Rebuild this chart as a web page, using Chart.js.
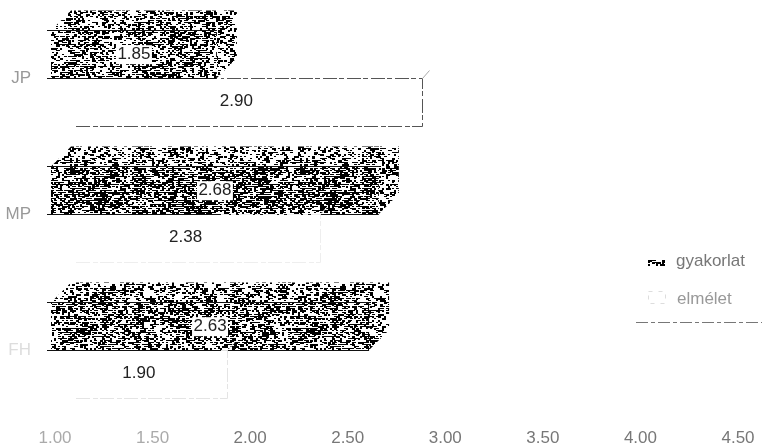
<!DOCTYPE html>
<html>
<head>
<meta charset="utf-8">
<script src="https://cdn.jsdelivr.net/npm/chart.js@4"></script>
<style>
  html, body { margin: 0; padding: 0; background: #fff; }
  #wrap { width: 762px; height: 446px; }
</style>
</head>
<body>
<div id="wrap"><canvas id="chart" width="762" height="446"></canvas></div>
<script>
const categories = ["JP", "MP", "FH"];
const gyakorlat = [1.85, 2.68, 2.63];
const elmelet = [2.90, 2.38, 1.90];
const xTicks = [1, 1.5, 2, 2.5, 3, 3.5, 4, 4.5];
const seriesNames = ["gyakorlat", "elmélet"];

const FONT = '"Liberation Sans", Arial, sans-serif';
const DEPTH_X = 20;
const DEPTH_Y = -20;

// photocopy look: fixed speckle, no Math.random so every run is the same
function speckle(density) {
  const c = document.createElement("canvas");
  c.width = 230;
  c.height = 96;
  const g = c.getContext("2d");
  g.fillStyle = "#fff";
  g.fillRect(0, 0, c.width, c.height);
  g.fillStyle = "#000";
  let s = 12345;
  const next = () => {
    s = (s * 1103515 + 12345) % 2147483648;
    return ((s >> 8) % 1000) / 1000;
  };
  // patchy density so it clumps like the scan
  const patches = [];
  for (let i = 0; i < 40 * 12; i++) patches.push(next() * 0.3 - 0.15);
  for (let y = 0; y < c.height; y += 2) {
    for (let x = 0; x < c.width; x += 2) {
      const patch = patches[Math.floor(x / 12) + Math.floor(y / 8) * 40];
      const streak = (x % 34 < 3 ? 0.2 : 0) + (y % 22 < 2 ? 0.15 : 0);
      if (next() < density + patch + streak) {
        g.fillRect(x, y, next() < 0.4 ? 3 : 2, next() < 0.5 ? 1 : 2);
      }
    }
  }
  return g.createPattern(c, "repeat");
}

const dark = [speckle(0.52), speckle(0.68), speckle(0.58)];
const topFace = speckle(0.42);

const look3d = {
  id: "look3d",
  beforeDatasetsDraw(chart) {
    const g = chart.ctx;
    g.save();
    chart.getDatasetMeta(0).data.forEach(b => {
      const { x, y, base, height } = b;
      const top = y - height / 2;
      const bottom = y + height / 2;
      g.fillStyle = topFace;
      g.beginPath();
      g.moveTo(base, top);
      g.lineTo(base + DEPTH_X, top + DEPTH_Y);
      g.lineTo(x + DEPTH_X, top + DEPTH_Y);
      g.lineTo(x + DEPTH_X, bottom + DEPTH_Y);
      g.lineTo(x, bottom);
      g.lineTo(x, top);
      g.closePath();
      g.fill();
    });
    g.restore();
  },
  afterDatasetsDraw(chart) {
    const g = chart.ctx;
    g.save();
    g.strokeStyle = "#111";
    g.lineWidth = 1;
    chart.getDatasetMeta(0).data.forEach(b => {
      const bottom = Math.round(b.y + b.height / 2) + 0.5;
      const top = Math.round(b.y - b.height / 2) + 0.5;
      g.beginPath();
      g.moveTo(b.base - 4, bottom);
      g.lineTo(b.x, bottom);
      g.moveTo(b.base - 4, top);
      g.lineTo(b.x, top);
      g.stroke();
    });
    // white bars: only the first one survived the scan well
    const outline = ["#555", "#eeeeee", "#e4e4e4"];
    chart.getDatasetMeta(1).data.forEach((b, i) => {
      const top = Math.round(b.y - b.height / 2) + 0.5;
      const bottom = Math.round(b.y + b.height / 2) + 0.5;
      const right = Math.round(b.x) + 0.5;
      g.strokeStyle = outline[i];
      g.setLineDash([14, 3, 5, 2]);
      g.beginPath();
      g.moveTo(b.base + 25, bottom);
      g.lineTo(right, bottom);
      g.lineTo(right, top);
      g.lineTo(b.base + 170, top);
      g.stroke();
      g.setLineDash([]);
      g.strokeStyle = i === 0 ? "#aaa" : "#f2f2f2";
      g.beginPath();
      g.moveTo(right, top);
      g.lineTo(right + 7, top - 8);
      g.stroke();
    });
    g.restore();
  }
};

const valueLabels = {
  id: "valueLabels",
  afterDraw(chart) {
    const g = chart.ctx;
    g.save();
    g.font = "17px " + FONT;
    g.textAlign = "center";
    g.textBaseline = "middle";
    chart.data.datasets.forEach((ds, d) => {
      chart.getDatasetMeta(d).data.forEach((b, i) => {
        const cx = (b.x + b.base) / 2;
        const txt = ds.data[i].toFixed(2);
        if (d === 0) {
          g.fillStyle = "#fff";
          g.fillRect(cx - 18, b.y - 9, 36, 19);
        }
        g.fillStyle = "#222";
        g.fillText(txt, cx, b.y);
      });
    });
    g.restore();
  }
};

const sideLegend = {
  id: "sideLegend",
  afterDraw(chart) {
    const g = chart.ctx;
    g.save();
    g.strokeStyle = "#777";
    g.setLineDash([12, 3, 4, 3]);
    g.beginPath();
    g.moveTo(636, 322.5);
    g.lineTo(762, 322.5);
    g.stroke();
    g.setLineDash([]);
    g.fillStyle = dark[1];
    g.fillRect(648, 260, 17, 6);
    g.strokeStyle = "#ddd";
    g.setLineDash([4, 6]);
    g.strokeRect(648.5, 291.5, 17, 12);
    g.setLineDash([]);
    g.font = "17px " + FONT;
    g.textBaseline = "middle";
    g.fillStyle = "#777";
    g.fillText(seriesNames[0], 676, 261);
    g.fillStyle = "#999";
    g.fillText(seriesNames[1], 677, 299);
    g.restore();
  }
};

new Chart(document.getElementById("chart"), {
  type: "bar",
  data: {
    labels: categories,
    datasets: [
      { label: seriesNames[0], data: gyakorlat, base: xTicks[0], backgroundColor: dark, borderWidth: 0 },
      { label: seriesNames[1], data: elmelet, base: xTicks[0], backgroundColor: "#fff", borderWidth: 0 }
    ]
  },
  options: {
    indexAxis: "y",
    responsive: false,
    animation: false,
    layout: { padding: { top: 10, right: 28, left: 0, bottom: 0 } },
    categoryPercentage: 0.7,
    barPercentage: 1,
    plugins: { legend: { display: false }, tooltip: { enabled: false } },
    scales: {
      x: {
        min: xTicks[0],
        max: xTicks[xTicks.length - 1],
        afterBuildTicks: axis => { axis.ticks = xTicks.map(value => ({ value })); },
        afterFit: axis => { axis.height = 28; },
        grid: { display: false },
        border: { display: false },
        ticks: {
          padding: 2,
          labelOffset: 4,
          maxRotation: 0,
          autoSkip: false,
          color: c => (c.index < 2 ? "#aaa" : "#777"),
          font: { family: FONT, size: 17 },
          callback: v => v.toFixed(2)
        }
      },
      y: {
        afterFit: axis => { axis.width = 51; axis.paddingTop = 0; axis.paddingBottom = 0; },
        grid: { display: false },
        border: { display: false },
        ticks: {
          padding: 12,
          color: c => (c.index === 2 ? "#ddd" : "#999"),
          font: { family: FONT, size: 17 }
        }
      }
    }
  },
  plugins: [look3d, valueLabels, sideLegend]
});
</script>
</body>
</html>
